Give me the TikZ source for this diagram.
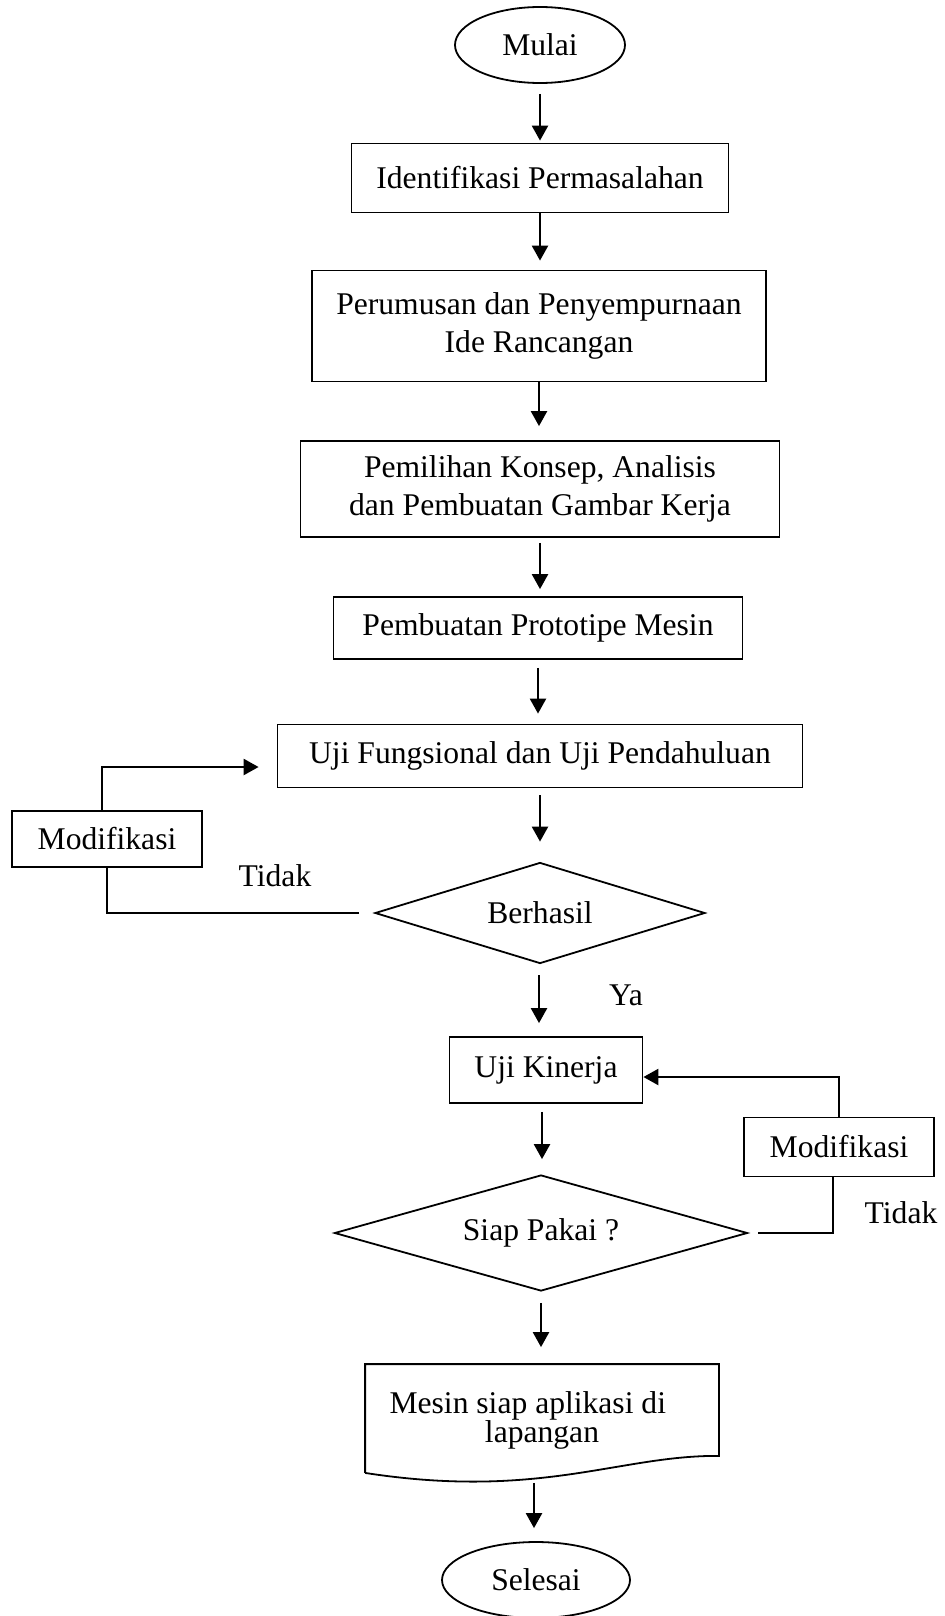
\documentclass[tikz,border=0pt]{standalone}
\usepackage{fontspec}
\setmainfont{Liberation Serif}
\usetikzlibrary{shapes.geometric,arrows.meta}

\begin{document}
\begin{tikzpicture}[x=0.5pt,y=-0.5pt,
    font=\fontsize{15.8pt}{19pt}\selectfont,
    kotak/.style={draw=black,line width=0.9pt,rectangle,inner sep=0pt,align=center},
    terminal/.style={draw=black,line width=0.9pt,ellipse,inner sep=0pt,minimum width=85pt,minimum height=38pt},
    keputusan/.style={draw=black,line width=0.9pt,diamond,inner sep=0pt},
    panah/.style={-{Triangle[length=7.5pt,width=8pt]},line width=1.2pt,shorten <=3.5pt,shorten >=6pt},
    garis/.style={line width=1pt}]
    \useasboundingbox (0,0) rectangle (944,1616);

    \node[terminal] (mulai) at (540,45) {Mulai};
    \node[kotak,minimum width=188.5pt,minimum height=34.5pt] (identifikasi) at (540,178) {Identifikasi Permasalahan};
    \node[kotak,minimum width=227pt,minimum height=55.5pt] (perumusan) at (539,326) {Perumusan dan Penyempurnaan\\Ide Rancangan};
    \node[kotak,minimum width=239.5pt,minimum height=48pt] (pemilihan) at (540,489) {Pemilihan Konsep, Analisis\\dan Pembuatan Gambar Kerja};
    \node[kotak,minimum width=204.5pt,minimum height=31pt] (prototipe) at (538,628) {Pembuatan Prototipe Mesin};
    \node[kotak,minimum width=262.5pt,minimum height=31.5pt] (ujifungsi) at (540,756) {Uji Fungsional dan Uji Pendahuluan};
    \node[keputusan,aspect=3.3,minimum width=165pt,minimum height=50.5pt] (berhasil) at (540,913) {Berhasil};
    \node[kotak,minimum width=95pt,minimum height=28pt] (modkiri) at (107,839) {Modifikasi};
    \node[kotak,minimum width=96.5pt,minimum height=33pt] (kinerja) at (546,1070) {Uji Kinerja};
    \node[kotak,minimum width=95pt,minimum height=29.5pt] (modkanan) at (839,1147) {Modifikasi};
    \node[keputusan,aspect=3.6,minimum width=206.5pt,minimum height=58pt] (siap) at (541,1233) {Siap Pakai ?};
    \node[kotak,draw=none,minimum width=176pt,minimum height=55pt,font=\fontsize{15.8pt}{14.5pt}\selectfont] (dokumen) at (542,1420) {Mesin siap aplikasi di\hspace*{0.9em}\\lapangan};
    \node[terminal,minimum width=94pt] (selesai) at (536,1580) {Selesai};

    \node (tidakkiri) at (275,876) {Tidak};
    \node (ya) at (626,995) {Ya};
    \node (tidakkanan) at (901,1213) {Tidak};

    \draw[line width=0.9pt] ([yshift=1.5pt]dokumen.south west) -- (dokumen.north west) -- (dokumen.north east) -- ([yshift=10pt]dokumen.south east)
        .. controls (620,1455) and (540,1500) .. ([yshift=1.5pt]dokumen.south west);

    \draw[panah,shorten <=5pt,shorten >=1pt] (mulai.south) -- (mulai.south |- identifikasi.north);
    \draw[panah,shorten <=0pt,shorten >=4.5pt] (identifikasi.south) -- (identifikasi.south |- perumusan.north);
    \draw[panah,shorten <=0pt,shorten >=7pt] (perumusan.south) -- (perumusan.south |- pemilihan.north);
    \draw[panah,shorten <=2.5pt,shorten >=3.5pt] (pemilihan.south) -- (pemilihan.south |- prototipe.north);
    \draw[panah,shorten <=4pt,shorten >=5pt] (prototipe.south) -- (prototipe.south |- ujifungsi.north);
    \draw[panah,shorten >=10pt] (ujifungsi.south) -- (ujifungsi.south |- berhasil.north);
    \draw[panah,shorten <=5.5pt,shorten >=6.5pt] ([xshift=-0.5pt]berhasil.south) -- ([xshift=-0.5pt]berhasil.south |- kinerja.north);
    \draw[panah,shorten <=4pt,shorten >=7.5pt] ([xshift=-2pt]kinerja.south) -- ([xshift=-2pt]kinerja.south |- siap.north);
    \draw[panah,shorten <=5.5pt,shorten >=8.5pt] (siap.south) -- (siap.south |- dokumen.north);
    \draw[panah,shorten <=3.5pt,shorten >=6.5pt] ([xshift=-4pt]dokumen.south) -- ([xshift=-4pt]dokumen.south |- selesai.north);

    \draw[panah,shorten <=0pt,shorten >=9pt] ([xshift=-2.5pt]modkiri.north) |- ([yshift=-5.5pt]ujifungsi.west);
    \draw[garis,shorten <=7.5pt] (berhasil.west) -| (modkiri.south);
    \draw[garis,shorten <=5pt] (siap.east) -| ([xshift=-3pt]modkanan.south);
    \draw[panah,shorten <=0pt,shorten >=0pt] (modkanan.north) |- ([yshift=-3.5pt]kinerja.east);
\end{tikzpicture}
\end{document}
